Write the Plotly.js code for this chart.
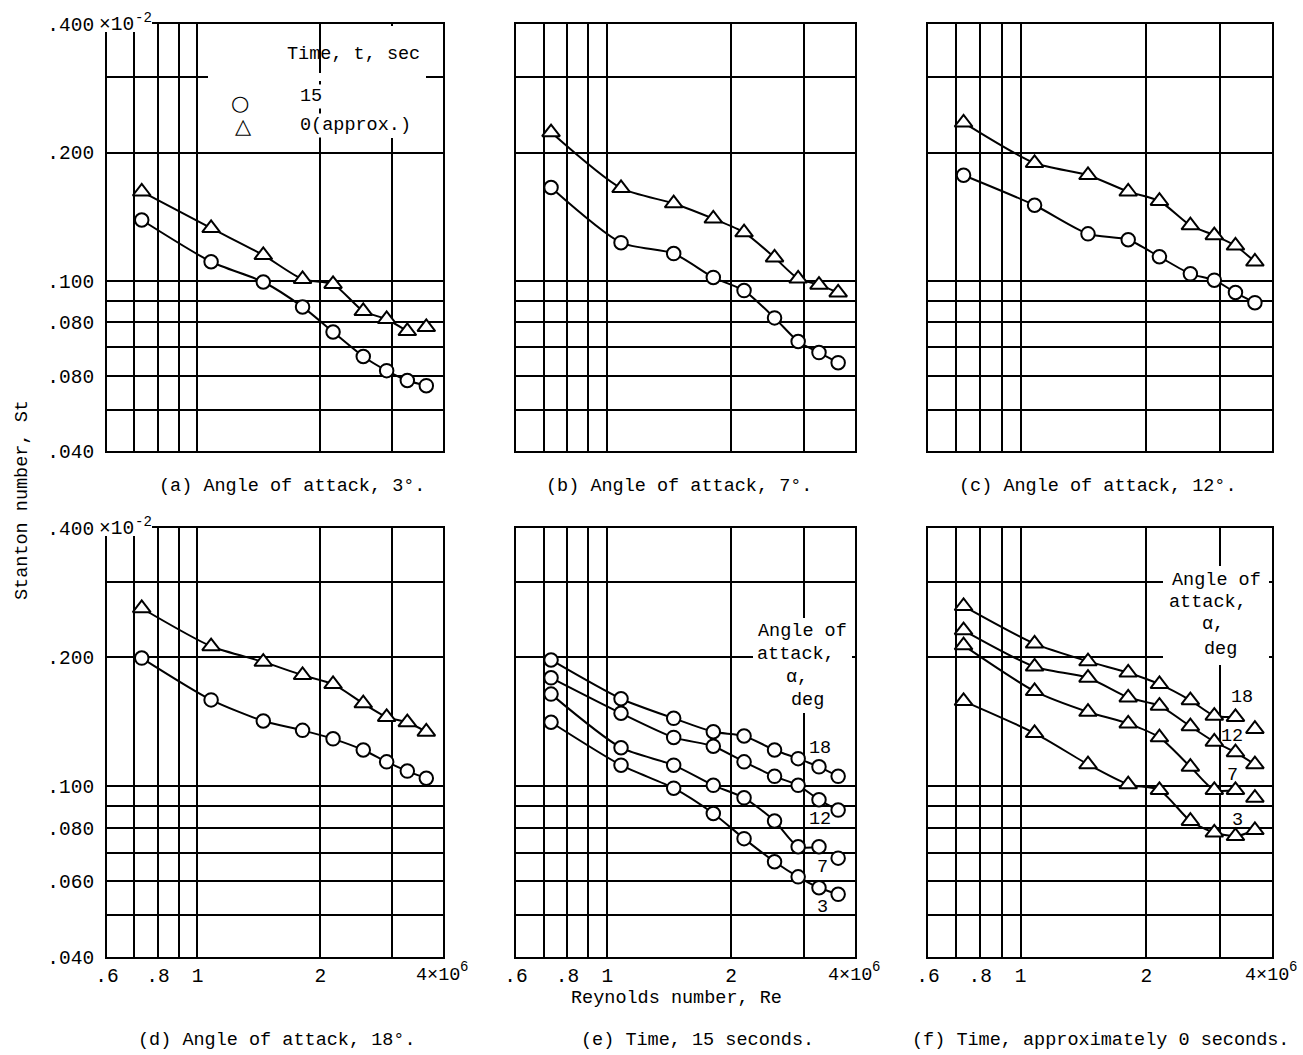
<!DOCTYPE html>
<html>
<head>
<meta charset="utf-8">
<script src="https://cdn.plot.ly/plotly-3.0.1.min.js"></script>
<style>html,body{margin:0;padding:0;background:#fff;}</style>
</head>
<body>
<div id="chart" style="width:1303px;height:1055px;"></div>
<script>
// Reynolds number, Re (x 10^6)
const reynolds = [0.73, 1.08, 1.45, 1.81, 2.15, 2.55, 2.91, 3.27, 3.64];

// Stanton number, St (x 10^-2)
// (a) alpha = 3 deg
const a_t15 = [0.139, 0.111, 0.0995, 0.087, 0.076, 0.0666, 0.0617, 0.0585, 0.0569];
const a_t0  = [0.162, 0.133, 0.115, 0.101, 0.0984, 0.085, 0.0814, 0.0763, 0.078];
// (b) alpha = 7 deg
const b_t15 = [0.1656, 0.123, 0.116, 0.102, 0.095, 0.082, 0.0722, 0.068, 0.0644];
const b_t0  = [0.223, 0.165, 0.152, 0.140, 0.130, 0.1135, 0.1013, 0.098, 0.094];
// (c) alpha = 12 deg
const c_t15 = [0.177, 0.1505, 0.129, 0.125, 0.114, 0.104, 0.1005, 0.094, 0.089];
const c_t0  = [0.235, 0.189, 0.177, 0.162, 0.154, 0.135, 0.128, 0.121, 0.111];
// (d) alpha = 18 deg
const d_t15 = [0.199, 0.159, 0.142, 0.135, 0.129, 0.1215, 0.114, 0.1085, 0.1044];
const d_t0  = [0.26, 0.212, 0.195, 0.1815, 0.173, 0.156, 0.145, 0.141, 0.134];
// (e) time 15 s, by angle of attack
const e_a18 = [0.197, 0.160, 0.144, 0.134, 0.131, 0.1215, 0.116, 0.111, 0.1055];
const e_a12 = [0.179, 0.148, 0.130, 0.124, 0.114, 0.1055, 0.1005, 0.093, 0.088];
const e_a7  = [0.164, 0.123, 0.112, 0.1005, 0.094, 0.083, 0.0723, 0.0723, 0.068];
const e_a3  = [0.141, 0.112, 0.099, 0.0864, 0.0755, 0.0667, 0.0615, 0.058, 0.056];
// (f) time approx. 0 s, by angle of attack
const f_a18 = [0.263, 0.215, 0.1955, 0.184, 0.173, 0.1586, 0.146, 0.145, 0.136];
const f_a12 = [0.231, 0.190, 0.179, 0.161, 0.154, 0.138, 0.127, 0.120, 0.1125];
const f_a7  = [0.213, 0.1666, 0.149, 0.140, 0.130, 0.111, 0.098, 0.098, 0.094];
const f_a3  = [0.158, 0.133, 0.1125, 0.101, 0.098, 0.083, 0.078, 0.0765, 0.079];

// Ticks (labelled) and extra grid lines (unlabelled)
const xTickVals = [0.6, 0.8, 1, 2];
const xTickText = ['.6', '.8', '1', '2'];
const xEndLabel = '4×10';       // label at Re = 4 (right edge)
const xExponent = '6';
const xGridVals = [0.7, 0.9, 3];
const yTickVals = [0.04, 0.06, 0.08, 0.1, 0.2, 0.4];
const yTickTextTop = ['.040', '.080', '.080', '.100', '.200', '.400'];
const yTickTextBottom = ['.040', '.060', '.080', '.100', '.200', '.400'];
const yExponent = '-2';
const yGridVals = [0.05, 0.07, 0.09, 0.3];

const captions = [
  '(a) Angle of attack, 3°.', '(b) Angle of attack, 7°.', '(c) Angle of attack, 12°.',
  '(d) Angle of attack, 18°.', '(e) Time, 15 seconds.', '(f) Time, approximately 0 seconds.'
];
const keyTitle = 'Time, t, sec';
const keyNames = ['15', '0(approx.)'];
const alphaTitleLines = ['Angle of', 'attack,', 'α,', 'deg'];
const alphaLabels = ['18', '12', '7', '3'];

// series: data, time (15 -> circle, 0 -> triangle), number of points on faired curve
const panels = [
  [{y: a_t15, t: 15, n: 9}, {y: a_t0, t: 0, n: 8}],
  [{y: b_t15, t: 15, n: 9}, {y: b_t0, t: 0, n: 9}],
  [{y: c_t15, t: 15, n: 9}, {y: c_t0, t: 0, n: 9}],
  [{y: d_t15, t: 15, n: 9}, {y: d_t0, t: 0, n: 9}],
  [{y: e_a18, t: 15, n: 9}, {y: e_a12, t: 15, n: 9}, {y: e_a7, t: 15, n: 8}, {y: e_a3, t: 15, n: 9}],
  [{y: f_a18, t: 0, n: 8}, {y: f_a12, t: 0, n: 9}, {y: f_a7, t: 0, n: 8}, {y: f_a3, t: 0, n: 9}]
];

const W = 1303, H = 1055;
const colPx = [[107, 443], [516, 855], [928, 1272]];
const rowPx = [[24, 451], [528, 957]];
const FONT = '"Liberation Mono", "DejaVu Sans Mono", monospace';
const SYMFONT = '"DejaVu Sans", sans-serif';

const traces = [];
const markerTraces = [];
const layout = {
  width: W, height: H,
  margin: {l: 0, r: 0, t: 0, b: 0},
  paper_bgcolor: '#fff', plot_bgcolor: '#fff',
  showlegend: false,
  font: {family: FONT, size: 18, color: '#000'},
  annotations: [],
  shapes: []
};

function ann(px, py, text, o) {
  return Object.assign({xref: 'paper', yref: 'paper', x: px / W, y: 1 - py / H, text: text,
    showarrow: false, xanchor: 'center', yanchor: 'middle', font: {family: FONT, size: 18.5, color: '#000'}}, o || {});
}
function blank(x0, y0, x1, y1) {
  layout.shapes.push({type: 'rect', xref: 'paper', yref: 'paper', x0: x0 / W, x1: x1 / W,
    y0: 1 - y1 / H, y1: 1 - y0 / H, fillcolor: '#fff', line: {width: 0}, layer: 'above'});
}

panels.forEach((series, i) => {
  const k = i + 1, sfx = k === 1 ? '' : String(k);
  const r = Math.floor(i / 3), c = i % 3;
  const common = {
    type: 'log', showgrid: true, gridcolor: '#000', gridwidth: 2,
    showline: true, linecolor: '#000', linewidth: 2, mirror: true,
    zeroline: false, ticks: '', fixedrange: true, tickmode: 'array',
    tickfont: {family: FONT, size: 19.5, color: '#000'}
  };
  layout['xaxis' + sfx] = Object.assign({}, common, {
    range: [Math.log10(0.6), Math.log10(4)],
    domain: [colPx[c][0] / W, colPx[c][1] / W],
    anchor: 'y' + sfx, tickvals: xTickVals, ticktext: xTickText,
    showticklabels: r === 1, ticklabelstandoff: 0,
    minor: {tickmode: 'array', tickvals: xGridVals, showgrid: true, gridcolor: '#000', gridwidth: 2, ticks: ''}
  });
  layout['yaxis' + sfx] = Object.assign({}, common, {
    range: [Math.log10(0.04), Math.log10(0.4)],
    domain: [1 - rowPx[r][1] / H, 1 - rowPx[r][0] / H],
    anchor: 'x' + sfx, tickvals: yTickVals,
    ticktext: r === 0 ? yTickTextTop : yTickTextBottom,
    showticklabels: c === 0, ticklabelstandoff: 7,
    minor: {tickmode: 'array', tickvals: yGridVals, showgrid: true, gridcolor: '#000', gridwidth: 2, ticks: ''}
  });
  series.forEach(s => {
    traces.push({
      x: reynolds.slice(0, s.n), y: s.y.slice(0, s.n), xaxis: 'x' + sfx, yaxis: 'y' + sfx,
      type: 'scatter', mode: 'lines', line: {color: '#000', width: 2, shape: 'spline', smoothing: 0.7},
      hoverinfo: 'skip'
    });
    markerTraces.push({
      x: reynolds, y: s.y, xaxis: 'x' + sfx, yaxis: 'y' + sfx,
      type: 'scatter', mode: 'markers',
      marker: s.t === 15
        ? {symbol: 'circle', size: 13.5, color: '#fff', line: {color: '#000', width: 2}}
        : {symbol: 'triangle-up', size: 15.5, color: '#fff', line: {color: '#000', width: 2}}
    });
  });
  // subplot caption
  const capX = [[292, 679, 1098], [277, 697, 1100]][r][c];
  const capY = r === 0 ? 486 : 1040;
  layout.annotations.push(ann(capX, capY, captions[i]));
  if (c === 0) {
    // exponent of the .400 label, written past the axis as in the original
    blank(98, rowPx[r][0] - 14, 152, rowPx[r][0] + 8);
    layout.annotations.push(ann(97, rowPx[r][0] + 1, '×10', {xanchor: 'left', font: {family: FONT, size: 19.5, color: '#000'}}));
    layout.annotations.push(ann(133, rowPx[r][0] - 6, yExponent, {xanchor: 'left', font: {family: FONT, size: 14, color: '#000'}}));
  }
  if (r === 1) {
    // label at the right end of the Reynolds-number axis
    layout.annotations.push(ann(colPx[c][1] + 19, rowPx[r][1] + 18, xEndLabel, {xanchor: 'right', font: {family: FONT, size: 18.5, color: '#000'}}));
    layout.annotations.push(ann(colPx[c][1] + 15, rowPx[r][1] + 10, xExponent, {xanchor: 'left', font: {family: FONT, size: 14, color: '#000'}}));
  }
});

// axis titles
layout.annotations.push(ann(22, 500, 'Stanton number, St', {textangle: -90}));
layout.annotations.push(ann(676, 998, 'Reynolds number, Re'));

// key in (a)
blank(208, 73, 426, 81);   // 0.3 grid line interrupted by the key
blank(386, 26, 395, 138);  // Re = 3 grid line starts below the key
layout.annotations.push(ann(353, 55, keyTitle));
layout.annotations.push(ann(240, 103, '○', {font: {family: SYMFONT, size: 21, color: '#000'}}));
layout.annotations.push(ann(243, 126, '△', {font: {family: SYMFONT, size: 21, color: '#000'}}));
layout.annotations.push(ann(311, 97, keyNames[0], {bgcolor: '#fff'}));
layout.annotations.push(ann(298, 125, keyNames[1], {xanchor: 'left', bgcolor: '#fff'}));

// labels in (e)
blank(753, 618, 852, 713);
[[802, 631], [796, 654], [797, 677], [808, 700]].forEach((p, j) => layout.annotations.push(ann(p[0], p[1], alphaTitleLines[j])));
[[820, 748], [820, 819], [822, 867], [822, 907]].forEach((p, j) => layout.annotations.push(ann(p[0], p[1], alphaLabels[j])));

// labels in (f)
blank(1163, 566, 1269, 665);
[[1216, 580], [1208, 602], [1213, 624], [1220, 649]].forEach((p, j) => layout.annotations.push(ann(p[0], p[1], alphaTitleLines[j])));
[[1242, 697], [1232, 736], [1232, 775], [1237, 820]].forEach((p, j) => layout.annotations.push(ann(p[0], p[1], alphaLabels[j])));

Plotly.newPlot('chart', traces.concat(markerTraces), layout, {staticPlot: true, displayModeBar: false});
</script>
</body>
</html>
